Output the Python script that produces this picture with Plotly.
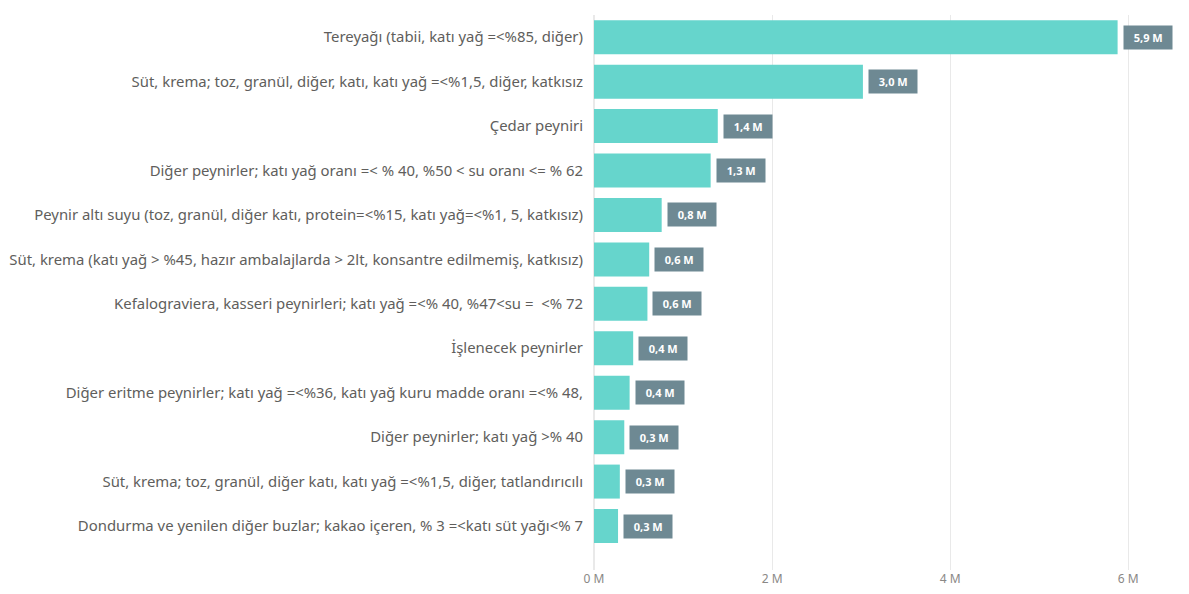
import plotly.graph_objects as go

categories = [
    "Tereyağı (tabii, katı yağ =<%85, diğer)",
    "Süt, krema; toz, granül, diğer, katı, katı yağ =<%1,5, diğer, katkısız",
    "Çedar peyniri",
    "Diğer peynirler; katı yağ oranı =< % 40, %50 < su oranı <= % 62",
    "Peynir altı suyu (toz, granül, diğer katı, protein=<%15, katı yağ=<%1, 5, katkısız)",
    "Süt, krema (katı yağ > %45, hazır ambalajlarda > 2lt, konsantre edilmemiş, katkısız)",
    "Kefalograviera, kasseri peynirleri; katı yağ =<% 40, %47<su =  <% 72",
    "İşlenecek peynirler",
    "Diğer eritme peynirler; katı yağ =<%36, katı yağ kuru madde oranı =<% 48,",
    "Diğer peynirler; katı yağ >% 40",
    "Süt, krema; toz, granül, diğer katı, katı yağ =<%1,5, diğer, tatlandırıcılı",
    "Dondurma ve yenilen diğer buzlar; kakao içeren, % 3 =<katı süt yağı<% 7",
]
values = [5.88e6, 3.02e6, 1.39e6, 1.31e6, 0.76e6, 0.62e6, 0.60e6, 0.44e6, 0.40e6, 0.34e6, 0.29e6, 0.27e6]
value_labels = ["5,9 M", "3,0 M", "1,4 M", "1,3 M", "0,8 M", "0,6 M", "0,6 M", "0,4 M", "0,4 M", "0,3 M", "0,3 M", "0,3 M"]
tick_vals = [0, 2e6, 4e6, 6e6]
tick_text = ["0 M", "2 M", "4 M", "6 M"]

FONT = "Noto Sans"

fig = go.Figure()
fig.add_trace(go.Bar(
    x=values, y=categories, orientation="h",
    marker=dict(color="#66D5CC", line=dict(width=0)),
    hoverinfo="x+y",
))

for c, v, t in zip(categories, values, value_labels):
    fig.add_annotation(
        x=v, y=c, text="&nbsp;&nbsp;<b>" + t + "</b>&nbsp;&nbsp;", showarrow=False,
        xanchor="left", xshift=5,
        font=dict(family=FONT, size=11, color="white"),
        bgcolor="#6E8993", borderpad=4,
    )

fig.update_layout(
    width=1181, height=586,
    margin=dict(l=586, r=34, t=7, b=24),
    paper_bgcolor="white", plot_bgcolor="white",
    bargap=0.235,
    showlegend=False,
    font=dict(family=FONT, color="#605E5C"),
)
fig.update_xaxes(
    range=[0, 6.3e6], tickvals=tick_vals, ticktext=tick_text,
    showgrid=True, gridcolor="#E9E9E9", gridwidth=1,
    zeroline=True, zerolinecolor="#E9E9E9",
    tickfont=dict(family=FONT, size=12, color="#8A8886"),
    ticks="", showline=False, automargin=False,
)
fig.update_yaxes(
    categoryorder="array", categoryarray=categories[::-1],
    range=[-0.99, 11.5],
    tickfont=dict(family=FONT, size=14.9, color="#605E5C"),
    ticks="", showline=False, showgrid=False, ticklabelstandoff=10,
    automargin=False,
)

fig.write_html("out.html")
